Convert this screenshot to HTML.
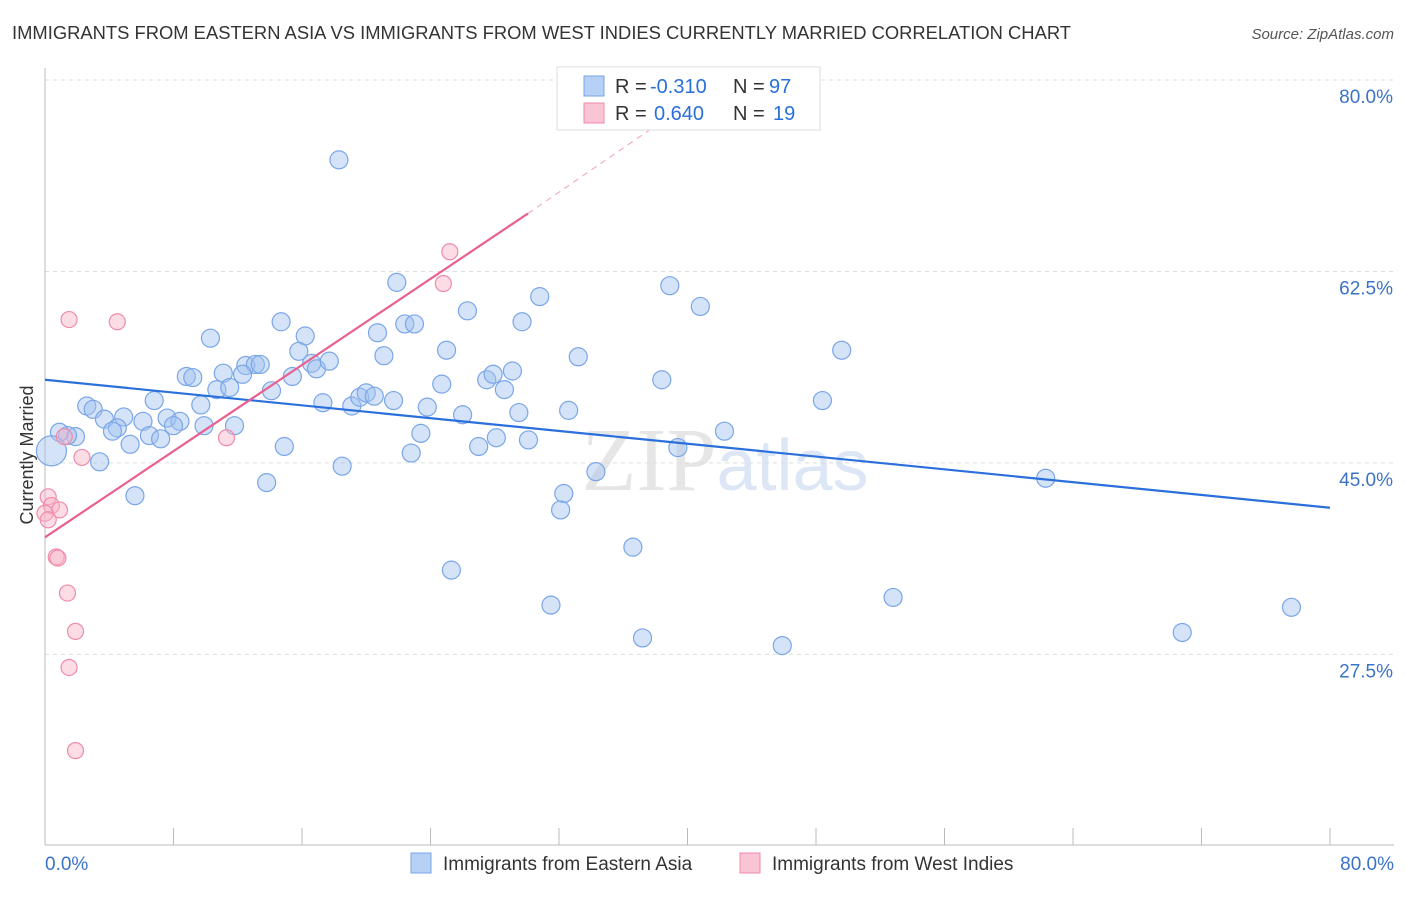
<!DOCTYPE html>
<html><head><meta charset="utf-8"><style>
body{margin:0;background:#fff;font-family:"Liberation Sans",sans-serif}
</style></head><body>
<svg id="c" width="1406" height="892" xmlns="http://www.w3.org/2000/svg" font-family="Liberation Sans, sans-serif">
<text x="12" y="39" font-size="18" fill="#333" textLength="1059" lengthAdjust="spacingAndGlyphs">IMMIGRANTS FROM EASTERN ASIA VS IMMIGRANTS FROM WEST INDIES CURRENTLY MARRIED CORRELATION CHART</text>
<text x="1394" y="39" font-size="15" fill="#555" text-anchor="end" font-style="italic">Source: ZipAtlas.com</text>
<text x="725" y="490" font-size="90" fill="#e6e6e6" text-anchor="middle" font-family="Liberation Serif, serif">ZIP<tspan fill="#dce6f5" font-family="Liberation Sans, sans-serif" font-size="72">atlas</tspan></text>
<text transform="translate(33,455) rotate(-90)" font-size="18" fill="#333" text-anchor="middle">Currently Married</text>
<g id="grid"></g><g id="marks"></g>
<g font-size="20">
<rect x="557" y="67" width="263" height="63" fill="#fff" stroke="#ddd"/>
<rect x="584" y="76" width="20" height="20" fill="#b7d0f5" stroke="#7aa6e8"/>
<rect x="584" y="103" width="20" height="20" fill="#f9c4d4" stroke="#f08aaa"/>
<text x="615" y="93" fill="#333">R =</text>
<text x="650" y="93" fill="#2a6fdb">-0.310</text>
<text x="733" y="93" fill="#333">N =</text>
<text x="769" y="93" fill="#2a6fdb">97</text>
<text x="615" y="120" fill="#333">R =</text>
<text x="654" y="120" fill="#2a6fdb">0.640</text>
<text x="733" y="120" fill="#333">N =</text>
<text x="773" y="120" fill="#2a6fdb">19</text>
</g>
<g>
<rect x="411" y="853" width="20" height="20" fill="#b7d0f5" stroke="#7aa6e8"/>
<text x="443" y="870" font-size="19" fill="#333">Immigrants from Eastern Asia</text>
<rect x="740" y="853" width="20" height="20" fill="#f9c4d4" stroke="#f08aaa"/>
<text x="772" y="870" font-size="19" fill="#333">Immigrants from West Indies</text>
</g>
</svg>
<script>
const blueX=[18.3,21.9,30.8,38.9,40.8,26.3,10.3,14.7,16.2,20.7,22.4,23.0,29.7,15.8,21.1,25.0,33.2,49.6,8.8,9.2,11.1,12.5,13.1,13.4,12.3,10.7,11.5,14.1,15.4,16.6,16.9,17.7,24.7,27.5,27.9,29.1,28.6,38.4,6.8,2.6,3.0,4.9,3.7,4.5,4.2,6.1,7.6,8.4,9.7,8.0,9.9,11.8,6.5,7.2,5.3,1.9,1.4,0.9,0.4,3.4,5.6,13.8,14.9,18.5,17.3,19.1,19.6,20.0,20.5,21.7,23.8,23.4,22.8,26.0,27.0,28.1,29.5,30.1,32.6,42.3,39.4,34.3,32.3,32.1,48.4,62.3,36.6,25.3,31.5,37.2,45.9,52.8,70.8,77.6];
const blueY=[72.7,61.5,60.2,61.2,59.3,58.9,56.4,57.9,56.6,56.9,57.7,57.7,57.9,55.2,54.8,55.3,54.7,55.3,52.9,52.8,53.2,53.9,54.0,54.0,53.1,51.7,51.9,51.6,52.9,54.1,53.6,54.3,52.2,52.6,53.1,53.4,51.7,52.6,50.7,50.2,49.9,49.2,49.0,48.2,47.9,48.8,49.1,48.8,50.3,48.4,48.4,48.4,47.5,47.2,46.7,47.4,47.5,47.8,46.1,45.1,42.0,43.2,46.5,44.7,50.5,50.2,51.0,51.4,51.1,50.7,50.1,47.7,45.9,49.4,46.5,47.3,49.6,47.1,49.8,47.9,46.4,44.2,42.2,40.7,50.7,43.6,37.3,35.2,32.0,29.0,28.3,32.7,29.5,31.8];
const pinkX=[1.5,4.5,25.2,24.8,11.3,2.3,1.2,0.2,0.4,0.9,0.0,0.2,0.7,0.8,1.4,1.9,1.5,1.9];
const pinkY=[58.1,57.9,64.3,61.4,47.3,45.5,47.4,41.9,41.1,40.7,40.4,39.8,36.4,36.3,33.1,29.6,26.3,18.7];
const blueTrend=[[0,52.6],[80,40.9]];
const pinkTrend=[[0,38.2],[30.07,67.8]];
const pinkDash=[[30.07,67.8],[38,75.8]];
const yTicks=[80,62.5,45,27.5];
const xTicks=[0,8,16,24,32,40,48,56,64,72,80];
const NS="http://www.w3.org/2000/svg";
const X=v=>45+v/80*1285, Y=v=>80+(80-v)*10.94;
const g=document.getElementById('grid'), m=document.getElementById('marks');
function mk(tag,at,p){const e=document.createElementNS(NS,tag);for(const k in at)e.setAttribute(k,at[k]);p.appendChild(e);return e;}
yTicks.forEach(t=>{
 const l=mk('line',{x1:45,x2:1394,y1:Y(t),y2:Y(t),stroke:'#ddd','stroke-dasharray':'4,4'},g);
 
 
 const tx=mk('text',{x:1393,y:Y(t)+23,'font-size':19,fill:'#3b73c8','text-anchor':'end'},g);
 tx.textContent=t.toFixed(1)+'%';
 
 
});
const ax=mk('line',{x1:45,x2:45,y1:68,y2:845,stroke:'#bbb'},g);


const bx=mk('line',{x1:45,x2:1394,y1:845,y2:845,stroke:'#bbb'},g);


xTicks.forEach(t=>{
 const l=mk('line',{x1:X(t),x2:X(t),y1:828,y2:845,stroke:'#bbb'},g);
 
 
});
[[0,'start',45],[80,'end',1394]].forEach(([t,a,x])=>{
 const tx=mk('text',{x:x,y:870,'font-size':19,fill:'#3b73c8','text-anchor':a},g);
 tx.textContent=t.toFixed(1)+'%';
 
 
});
blueX.forEach((v,i)=>{
 const c=mk('circle',{cx:X(v),cy:Y(blueY[i]),r:i==58?15:9,fill:'rgba(160,192,240,0.45)',stroke:'#7aa6e8','stroke-width':1.2},m);
 
 
});
pinkX.forEach((v,i)=>{
 const c=mk('circle',{cx:X(v),cy:Y(pinkY[i]),r:8,fill:'rgba(248,180,200,0.45)',stroke:'#f08aaa','stroke-width':1.2},m);
 
 
});
const bl=mk('line',{x1:X(blueTrend[0][0]),y1:Y(blueTrend[0][1]),x2:X(blueTrend[1][0]),y2:Y(blueTrend[1][1]),stroke:'#2a6fdb','stroke-width':2.2},m);


const pl=mk('line',{x1:X(pinkTrend[0][0]),y1:Y(pinkTrend[0][1]),x2:X(pinkTrend[1][0]),y2:Y(pinkTrend[1][1]),stroke:'#e8608f','stroke-width':2.2},m);


const pd=mk('line',{x1:X(pinkDash[0][0]),y1:Y(pinkDash[0][1]),x2:X(pinkDash[1][0]),y2:Y(pinkDash[1][1]),stroke:'#f0a0b8','stroke-width':1,'stroke-dasharray':'6,5'},m);


</script>
</body></html>
